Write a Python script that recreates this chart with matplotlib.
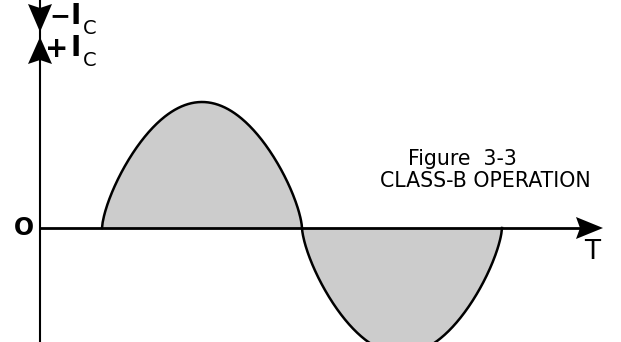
import numpy as np
import matplotlib.pyplot as plt
from matplotlib.patches import Polygon

# class-B output: each transistor conducts for one half cycle only
# units: t in half periods, i in peak amplitudes
T_START = 0.31       # conduction begins
HALF_PERIODS = 2     # one positive + one negative half cycle
PEAK = 1.0
SHAPE = 0.68         # the drawn humps are fuller than a pure sine

# drawing scale (pixels per unit), origin at the axis crossing
PX_T = 200
PX_I = 126
X0, Y0 = 40, 228
W, H = 621, 342

t = np.linspace(T_START, T_START + HALF_PERIODS, 600)
s = np.sin(np.pi * (t - T_START))
i_c = PEAK * np.sign(s) * np.abs(s) ** SHAPE


def px(x, y):
    # pixel position (from top left) -> data coords
    return (x - X0) / PX_T, (Y0 - y) / PX_I


def main():
    fig = plt.figure(figsize=(W / 100, H / 100), dpi=100)
    ax = fig.add_axes([0, 0, 1, 1])
    ax.set_xlim(px(0, 0)[0], px(W, 0)[0])
    ax.set_ylim(px(0, H)[1], px(0, 0)[1])
    ax.axis('off')

    # shaded waveform
    ax.fill_between(t, 0, i_c, color='#cccccc', lw=0)
    ax.plot(t, i_c, color='k', lw=1.8)

    # time axis
    ax.plot(*zip(px(X0, Y0), px(585, Y0)), color='k', lw=2)
    ax.add_patch(Polygon([px(603, Y0), px(576, Y0 - 11), px(580, Y0),
                          px(576, Y0 + 11)], closed=True, color='k', lw=0))
    ax.text(*px(592, 252), 'T', fontsize=19, ha='center', va='center')

    # current axis with -Ic / +Ic arrows
    ax.plot(*zip(px(X0, 0), px(X0, H)), color='k', lw=1.5)
    ax.add_patch(Polygon([px(40, 32), px(28, 4), px(40, 8), px(52, 4)],
                         closed=True, color='k', lw=0))
    ax.add_patch(Polygon([px(40, 37), px(28, 64), px(40, 60), px(52, 64)],
                         closed=True, color='k', lw=0))
    ax.text(*px(60, 16), '\u2212', fontsize=18, fontweight='bold',
            ha='center', va='center')
    ax.text(*px(57, 49), '+', fontsize=20, fontweight='bold',
            ha='center', va='center')
    for y_i, y_c in [(16, 29), (48, 60)]:
        ax.text(*px(76, y_i), 'I', fontsize=20, fontweight='bold',
                ha='center', va='center')
        ax.text(*px(90, y_c), 'C', fontsize=14, ha='center', va='center')

    ax.text(*px(24, 228), 'O', fontsize=17, fontweight='bold',
            ha='center', va='center')

    ax.text(*px(462, 165), 'Figure  3-3', fontsize=14.8, ha='center',
            va='baseline')
    ax.text(*px(485, 187), 'CLASS-B OPERATION', fontsize=14.8, ha='center',
            va='baseline')

    fig.savefig('out.png', dpi=100)


if __name__ == "__main__":
    main()
